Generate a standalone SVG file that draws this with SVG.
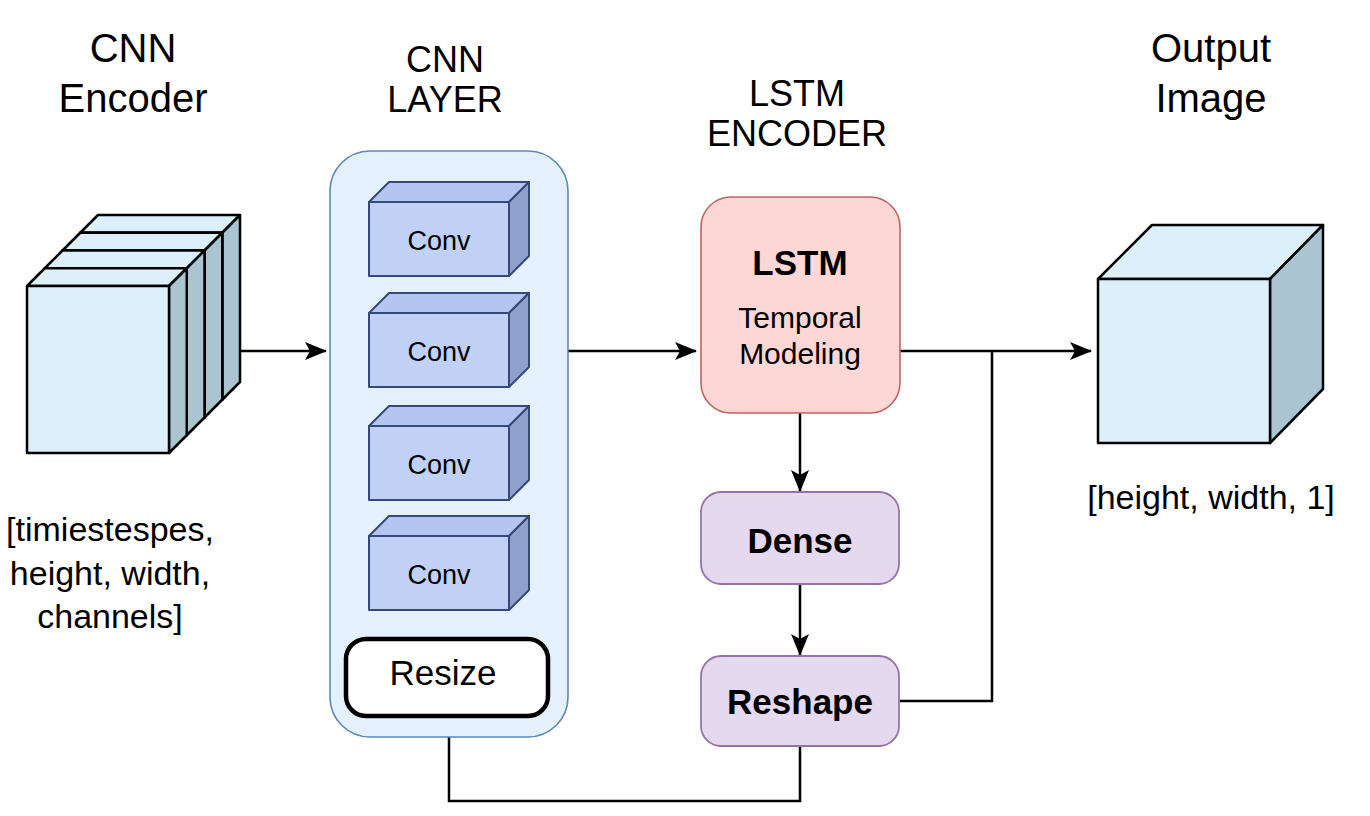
<svg xmlns="http://www.w3.org/2000/svg" width="1370" height="816" viewBox="0 0 1370 816">
<defs>
<style>
text{font-family:"Liberation Sans",Arial,Helvetica,sans-serif;fill:#000;text-anchor:middle}
.title{font-size:40px}
.title2{font-size:36px}
.lbl{font-size:34px}
.conv-f{fill:#c0d1f5;stroke:#34497a;stroke-width:2;stroke-linejoin:round}
.conv-t{fill:#b4c6f0;stroke:#34497a;stroke-width:2;stroke-linejoin:round}
.conv-s{fill:#8fa1cb;stroke:#34497a;stroke-width:2;stroke-linejoin:round}
.cube-f{fill:#dcf0fb;stroke:#000;stroke-width:2.5;stroke-linejoin:round}
.cube-s{fill:#abc4d1;stroke:#000;stroke-width:2.5;stroke-linejoin:round}
.conv-txt{font-size:27px}
.purple{fill:#e5d9ef;stroke:#9673a6;stroke-width:1.8}
.bold{font-weight:bold}
.wire{fill:none;stroke:#000;stroke-width:2.5}
</style>
<marker id="arr" viewBox="0 0 22 18" refX="21" refY="9" markerWidth="22" markerHeight="18" markerUnits="userSpaceOnUse" orient="auto">
<path d="M0,0 L22,9 L0,18 L5,9 Z" fill="#000"/>
</marker>
<g id="convshape">
<polygon class="conv-t" points="0,0 20,-20 160,-20 140,0"/>
<polygon class="conv-s" points="140,0 160,-20 160,54 140,74"/>
<rect class="conv-f" x="0" y="0" width="140" height="74"/>
</g>
<g id="slab">
<polygon class="cube-f" points="0,0 17.75,-17.75 159.75,-17.75 142,0"/>
<polygon class="cube-s" points="142,0 159.75,-17.75 159.75,149.25 142,167"/>
<rect class="cube-f" x="0" y="0" width="142" height="167"/>
</g>
</defs>

<rect width="1370" height="816" fill="#fff"/>

<g id="titles">
<text class="title" x="133" y="62">CNN</text>
<text class="title" x="133" y="112">Encoder</text>
<text class="title2" x="445" y="72">CNN</text>
<text class="title2" x="445" y="112">LAYER</text>
<text class="title2" x="797" y="106">LSTM</text>
<text class="title2" x="797" y="146">ENCODER</text>
<text class="title" x="1211" y="62">Output</text>
<text class="title" x="1211" y="112">Image</text>
</g>

<g id="connectors">
<line class="wire" x1="238" y1="351" x2="326" y2="351" marker-end="url(#arr)"/>
<line class="wire" x1="568" y1="351" x2="696" y2="351" marker-end="url(#arr)"/>
<line class="wire" x1="900" y1="351" x2="1091" y2="351" marker-end="url(#arr)"/>
<line class="wire" x1="800" y1="413" x2="800" y2="491" marker-end="url(#arr)"/>
<line class="wire" x1="800" y1="584" x2="800" y2="655" marker-end="url(#arr)"/>
<polyline class="wire" points="900,701 992,701 992,351"/>
<polyline class="wire" points="449,737 449,801 800,801 800,746"/>
</g>

<g id="cnn-encoder">
<use href="#slab" x="80.25" y="232.75"/>
<use href="#slab" x="62.5" y="250.5"/>
<use href="#slab" x="44.75" y="268.25"/>
<use href="#slab" x="27" y="286"/>
<text class="lbl" x="110" y="541">[timiestespes,</text>
<text class="lbl" x="110" y="585">height, width,</text>
<text class="lbl" x="110" y="628">channels]</text>
</g>

<g id="cnn-layer">
<rect x="330" y="151" width="238" height="586" rx="40" fill="#e4f1fc" stroke="#5b87bd" stroke-width="1.6"/>
<g id="conv1"><use href="#convshape" x="369" y="202"/><text class="conv-txt" x="439" y="250">Conv</text></g>
<g id="conv2"><use href="#convshape" x="369" y="313"/><text class="conv-txt" x="439" y="361">Conv</text></g>
<g id="conv3"><use href="#convshape" x="369" y="426"/><text class="conv-txt" x="439" y="474">Conv</text></g>
<g id="conv4"><use href="#convshape" x="369" y="536"/><text class="conv-txt" x="439" y="584">Conv</text></g>
<g id="resize">
<rect x="346" y="639" width="202" height="77" rx="20" fill="#fff" stroke="#000" stroke-width="4.5"/>
<text x="443" y="685" style="font-size:35px">Resize</text>
</g>
</g>

<g id="lstm">
<rect x="701" y="197" width="199" height="216" rx="30" fill="#fdd7d6" stroke="#c0645f" stroke-width="1.6"/>
<text class="bold" x="800" y="275" style="font-size:35px">LSTM</text>
<text x="800" y="328" style="font-size:30px">Temporal</text>
<text x="800" y="364" style="font-size:30px">Modeling</text>
</g>

<g id="dense">
<rect class="purple" x="701" y="492" width="198" height="92" rx="20"/>
<text class="bold" x="800" y="553" style="font-size:35px">Dense</text>
</g>

<g id="reshape">
<rect class="purple" x="701" y="656" width="198" height="90" rx="20"/>
<text class="bold" x="800" y="714" style="font-size:35px">Reshape</text>
</g>

<g id="output-image">
<polygon class="cube-f" points="1098,279 1152,225 1323,225 1270,279"/>
<polygon class="cube-s" points="1270,279 1323,225 1323,389 1270,443"/>
<rect class="cube-f" x="1098" y="279" width="172" height="164"/>
<text x="1211" y="509" style="font-size:34px">[height, width, 1]</text>
</g>
</svg>
